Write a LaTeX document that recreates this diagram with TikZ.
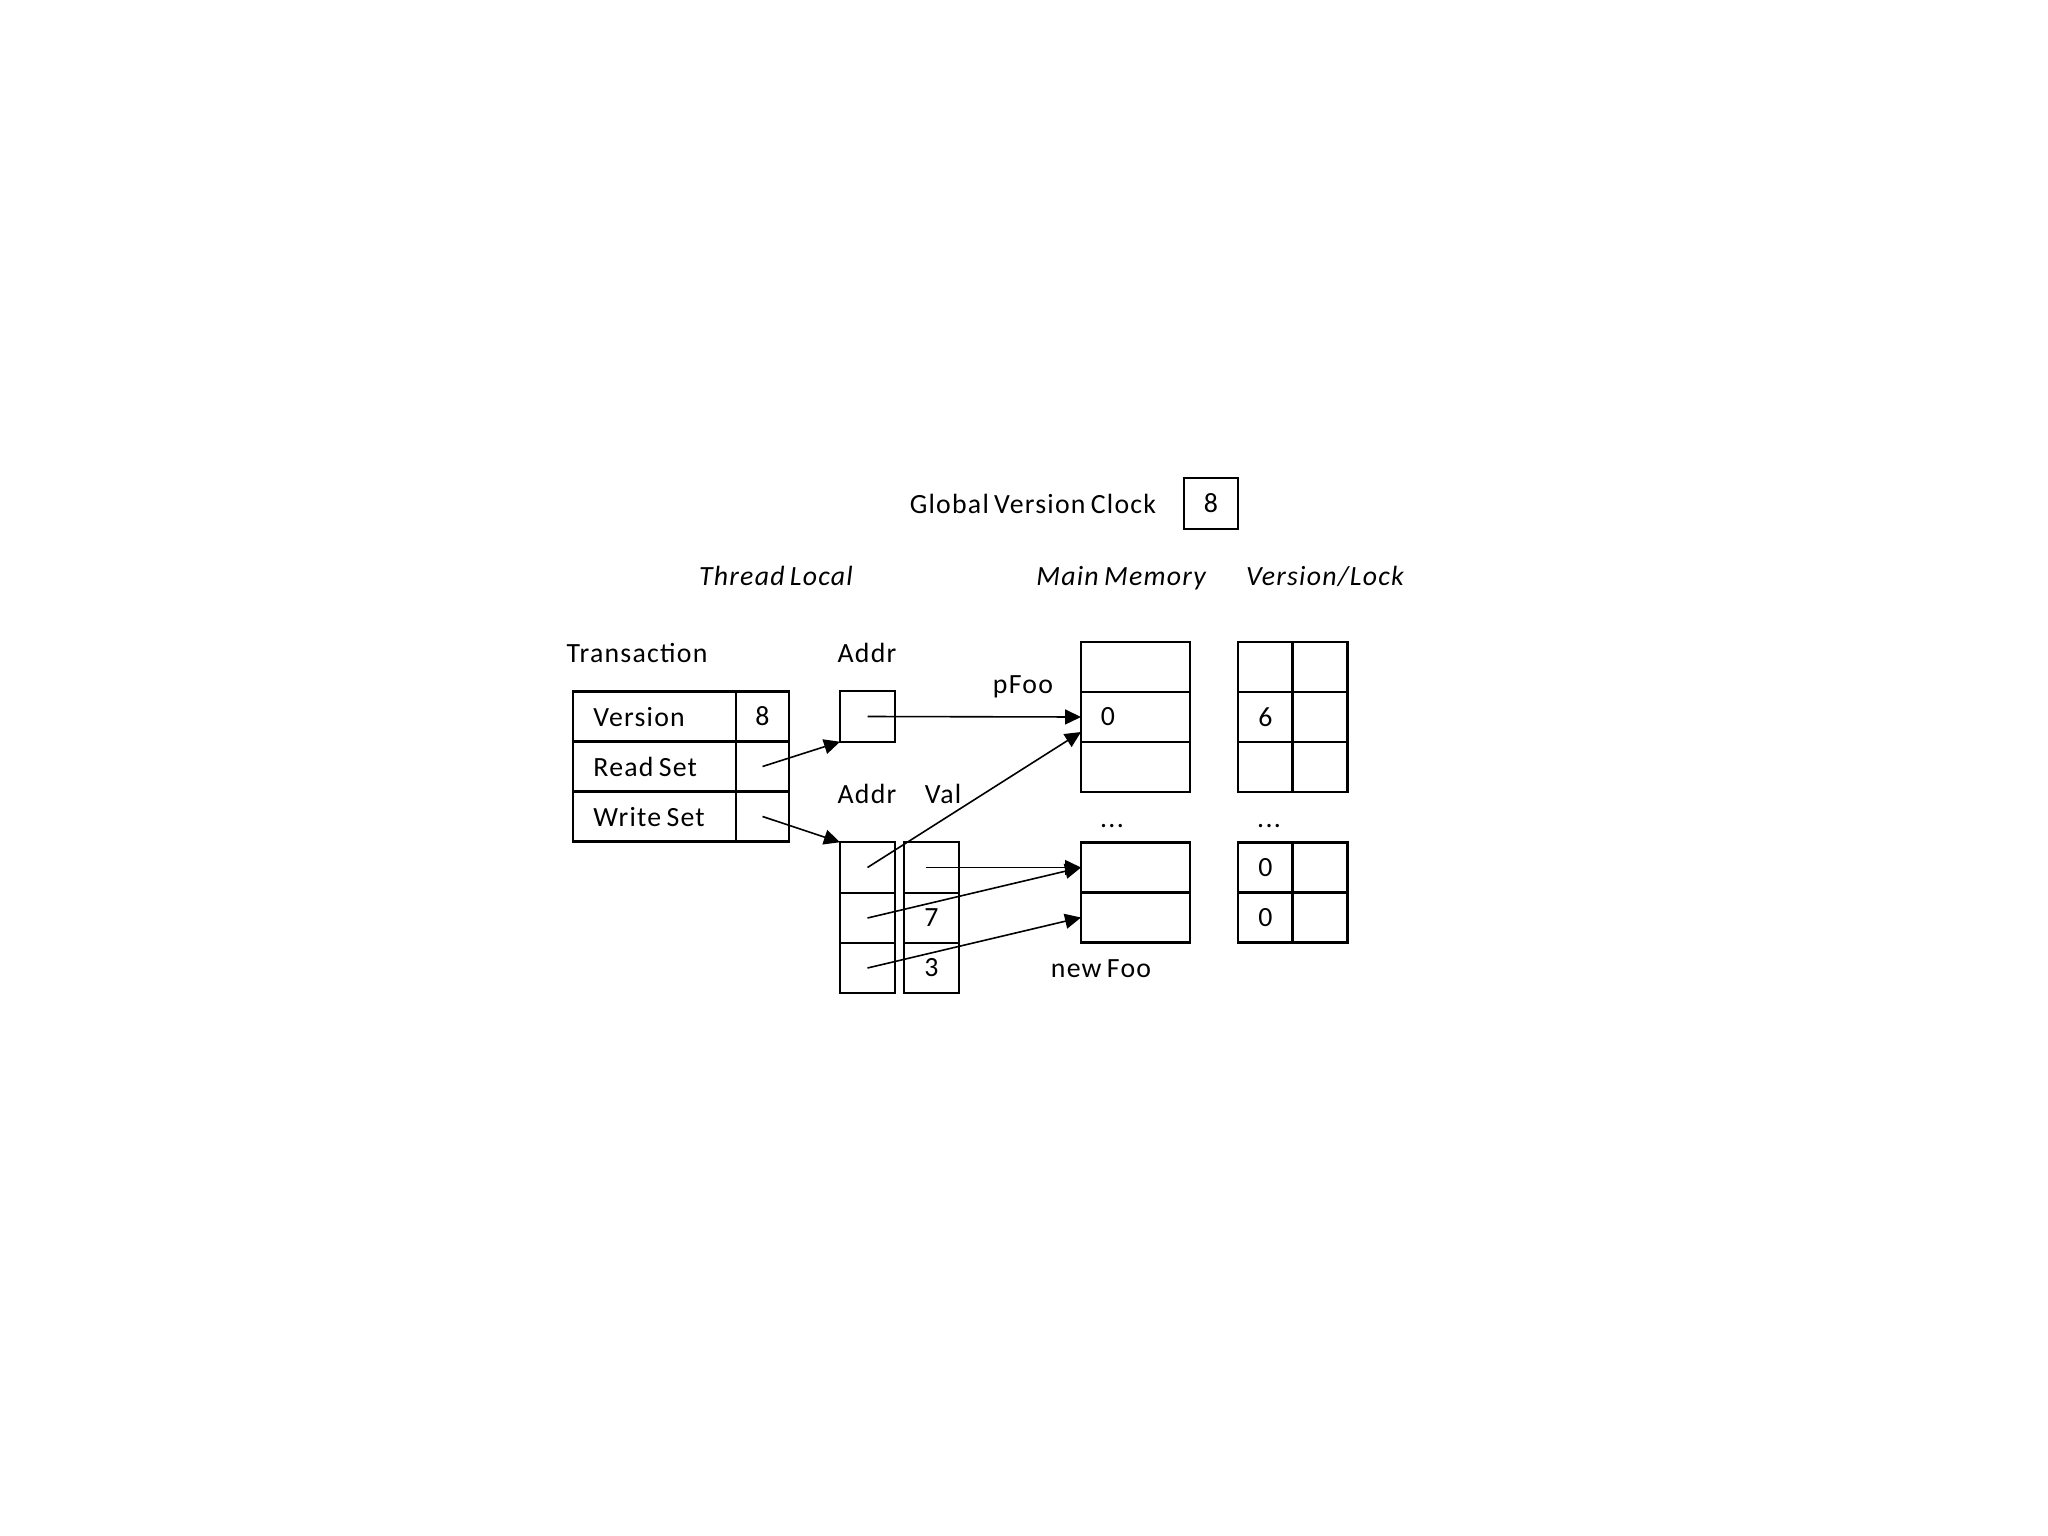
\documentclass[tikz,border=0pt]{standalone}
\usepackage{fontspec}
\setmainfont{Carlito}[LetterSpace=4.5,WordSpace=0.7]
\usetikzlibrary{arrows.meta,calc}
\tikzset{
  cell/.style 2 args={draw, line width=1.05pt, inner sep=0pt, outer sep=0pt,
    minimum width=#1, minimum height=#2, font=\fontsize{13.9pt}{16pt}\selectfont},
  txt/.style={inner sep=0pt, font=\fontsize{13.9pt}{16pt}\selectfont},
  itxt/.style={inner sep=0pt, font=\fontsize{13.9pt}{16pt}\selectfont\itshape},
  arr/.style={line width=0.8pt, -{Triangle[length=8pt,width=7.5pt]}}
}
\begin{document}
\begin{tikzpicture}[x=0.5pt,y=-0.5pt]
\useasboundingbox (0,0) rectangle (2048,1535);
% headings
\node[txt, anchor=base] (gvc) at (1033,513) {Global Version Clock};
\node[cell={27.25pt}{25.5pt}] (clock) at (1211,503.5) {8};
\node[itxt, anchor=base] (tl) at (776,585.7) {Thread Local};
\node[itxt, anchor=base] (mm) at (1121,585.7) {Main Memory};
\node[itxt, anchor=base] (vl) at (1325,585.7) {Version/Lock};
% transaction
\node[txt, anchor=base] (trl) at (637,662.7) {Transaction};
\node[cell={81.5pt}{25pt}] (t1) at (654.5,716.5) {};
\node[cell={81.5pt}{25pt}] (t2) at (654.5,766.5) {};
\node[cell={81.5pt}{25pt}] (t3) at (654.5,816.5) {};
\node[cell={26.5pt}{25pt}] (v1x) at (762.5,716.5) {8};
\node[cell={26.5pt}{25pt}] (rs) at (762.5,766.5) {};
\node[cell={26.5pt}{25pt}] (ws) at (762.5,816.5) {};
\node[txt, anchor=base west] (tver) at (593,726.7) {Version};
\node[txt, anchor=base west] (trs) at (593,776.7) {Read Set};
\node[txt, anchor=base west] (tws) at (593,826.7) {Write Set};
% read set
\node[txt, anchor=base] (addr1) at (867,662.7) {Addr};
\node[cell={27.5pt}{25.25pt}] (ta) at (867.5,716.5) {};
% write set
\node[txt, anchor=base] (addr2) at (867,803) {Addr};
\node[txt, anchor=base] (val) at (943,803) {Val};
\node[cell={27.5pt}{25.25pt}] (la1) at (867.5,867.5) {};
\node[cell={27.5pt}{25.25pt}] (la2) at (867.5,918) {};
\node[cell={27.5pt}{25.25pt}] (la3) at (867.5,968) {};
\node[cell={27.5pt}{25.25pt}] (lv1) at (931.5,867.5) {};
\node[cell={27.5pt}{25.25pt}] (lv2) at (931.5,918) {7};
\node[cell={27.5pt}{25.25pt}] (lv3) at (931.5,968) {3};
% main memory upper
\node[cell={54.5pt}{25pt}] (m1) at (1135.5,667) {};
\node[cell={54.5pt}{25pt}] (m2) at (1135.5,717) {};
\node[cell={54.5pt}{25pt}] (m3) at (1135.5,767) {};
\node[txt] (m2v) at (1108,717) {0};
\node[txt, anchor=base] (pfoo) at (1023,693) {pFoo};
% version/lock upper
\node[cell={27.5pt}{25pt}] (va1) at (1265.5,667) {};
\node[cell={27.5pt}{25pt}] (va2) at (1265.5,717) {6};
\node[cell={27.5pt}{25pt}] (va3) at (1265.5,767) {};
\node[cell={27.5pt}{25pt}] (vb1) at (1320,667) {};
\node[cell={27.5pt}{25pt}] (vb2) at (1320,717) {};
\node[cell={27.5pt}{25pt}] (vb3) at (1320,767) {};
% dots
\node[txt, anchor=base] (d1) at (1112,827.7) {...};
\node[txt, anchor=base] (d2) at (1269,827.7) {...};
% main memory lower
\node[cell={54.5pt}{25pt}] (ml1) at (1135.5,867.5) {};
\node[cell={54.5pt}{25pt}] (ml2) at (1135.5,917.5) {};
\node[txt, anchor=base] (newfoo) at (1101,977) {new Foo};
% version/lock lower
\node[cell={27.5pt}{25pt}] (vc1) at (1265.5,867.5) {0};
\node[cell={27.5pt}{25pt}] (vc2) at (1265.5,917.5) {0};
\node[cell={27.5pt}{25pt}] (vd1) at (1320,867.5) {};
\node[cell={27.5pt}{25pt}] (vd2) at (1320,917.5) {};
% connectors
\coordinate (m2in) at ([yshift=-7.5pt]m2.west);
\coordinate (lv1s) at ([xshift=-3pt]lv1.center);
\draw[arr] (rs.center) -- (ta.south west);
\draw[arr] (ws.center) -- (la1.north west);
\draw[arr] (ta.center) -- (m2.west);
\draw[arr] (la1.center) -- (m2in);
\draw[arr] (lv1s) -- (ml1.west);
\draw[arr] (la2.center) -- (ml1.west);
\draw[arr] (la3.center) -- (ml2.west);
\end{tikzpicture}
\end{document}
